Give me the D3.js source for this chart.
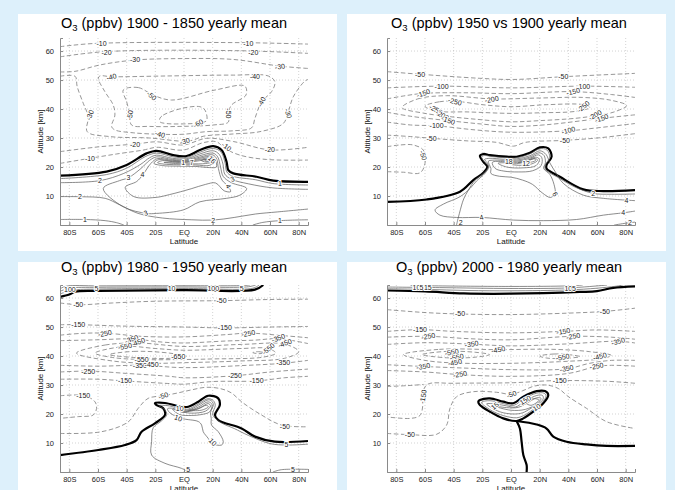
<!DOCTYPE html>
<html>
<head>
<meta charset="utf-8">
<script src="https://cdn.jsdelivr.net/npm/d3@7"></script>
<style>
  body { margin: 0; background: #ddf0fb; }
  svg { display: block; font-family: "Liberation Sans", Arial, sans-serif; }
</style>
</head>
<body>
<div id="chart"></div>
<script>
// axis ticks
var latTicks = [-80, -60, -40, -20, 0, 20, 40, 60, 80];
var latTickLabels = ["80S", "60S", "40S", "20S", "EQ", "20N", "40N", "60N", "80N"];
var altTicks = [10, 20, 30, 40, 50, 60];
var titleYears = ["1900 - 1850", "1950 vs 1900", "1980 - 1950", "2000 - 1980"];

// contour lines: level v, points [latitude, altitude km]
var p1Lines = [
  {v: -10, p: [[-86.5,61.5],[-63,62.6],[39,62.9],[86.5,62.4]]},
  {v: -20, p: [[-86.5,58],[-55,59.8],[40,60.1],[86.5,59.2]]},
  {v: -30, p: [[-86.5,52.8],[-76,53],[-58.7,55.2],[-34.2,56.9],[-0.5,57.4],[34.4,57.1],[67,54.8],[86.5,54]]},
  {v: -30, p: [[-86.5,51.3],[-76,51.3],[-74.5,47.7],[-70.3,42],[-66.8,37.4],[-67.5,32.2],[-51.7,30.5],[-23.8,30],[-0.5,28.9],[6.5,29.3],[13.4,30.6],[34.4,31.4],[53,32.2],[69.2,35],[72.7,39],[76.2,44.2],[84,49.5],[86.5,50.2]]},
  {v: -40, p: [[-58.7,51.4],[-50.5,51.15],[-12.2,51.4],[34.4,51.7],[58.8,51.4],[63.4,49.4],[61.1,46],[54.1,42.5],[49.5,36.8],[47.1,33.5],[34.4,32.5],[15.75,32.2],[-0.5,31.3],[-16.8,31.3],[-35.4,31.8],[-48.2,32.8],[-50.5,34],[-48.2,37.9],[-49.4,41.4],[-55.2,46],[-59.8,50.6],[-58.7,51.4]]},
  {v: -50, p: [[-42.4,46.55],[-31.9,47.4],[-21.45,44.8],[-8.7,43.1],[21.6,46.55],[42.5,47.9],[43.2,44.8],[33.2,41.4],[30.9,38.5],[30.9,35.5],[20.4,34.5],[-2.85,34],[-23.8,34],[-36.6,34.5],[-37.7,37.9],[-40,42.5],[-42.4,46.55]]},
  {v: -60, p: [[-16.8,36.8],[-14.5,37.9],[-1.7,40.2],[11.1,40.8],[14.6,39.65],[15.75,36],[9.9,35.2],[1.8,34.9],[-12.15,35],[-16.8,35.6],[-16.8,36.8]]},
  {v: -20, p: [[-86.5,25.3],[-58.65,27],[-34.2,27.9],[-19.1,28.7],[-0.5,27.6],[15.75,29.9],[34.4,28.8],[59.9,25.9],[86.5,26.8]]},
  {v: -10, p: [[-86.5,21.25],[-65.6,23],[-47,24.5],[-28.4,25.85],[-19.1,26.8],[-0.5,25.85],[13.4,28.4],[22.7,28.7],[28.5,26.4],[39,24.1],[57.6,22.6],[86.5,22.4]]},
  {v: 0, p: [[-86.5,17],[-54,18.4],[-40,20.7],[-26.1,24.7],[-19.1,25.6],[-7.5,24.1],[1.8,23.8],[11.1,25.85],[20.4,27.2],[26.2,25.85],[29.7,21.8],[30.9,18.95],[34.4,17.8],[50.6,16.65],[62.3,15.3],[86.5,14.9]]},
  {v: 1, p: [[-86.5,16],[-54,17.4],[-40,19.6],[-27,23.6],[-19.1,24.8],[-7.5,23.5],[1.8,23.3],[11,25.1],[20.4,26.4],[25.8,25.2],[28.7,21.3],[29.9,18.3],[33.5,16.9],[50,15.6],[62,14.3],[86.5,13.8]]},
  {v: 2, p: [[-86.5,14.6],[-58.7,15.3],[-42,17.8],[-30,21],[-24,23.2],[-19,24.1],[-8,23],[2,22.9],[11,24.5],[20.3,25.6],[24.5,24.4],[27.2,21],[28.4,17.6],[33,15.8],[45,14.2],[62,12.8],[86.5,12.3]]},
  {v: 2, p: [[-86.5,9.8],[-72.6,9.75],[-55,9.2],[-45,7],[-32,4],[-15,2.4],[5,1.8],[20.4,1.7],[35,2.6],[50,3.8],[65,4.5],[86.5,5.5]]},
  {v: 1, p: [[-86.5,1.9],[-69,1.9],[-55,1.5],[-47,0.8],[-42,0]]},
  {v: 1, p: [[48,0],[55,0.9],[66.9,1.5],[86.5,1.8]]},
  {v: 3, p: [[-56.3,12.6],[-45,15.3],[-38.8,16.3],[-30,19.5],[-24,22.3],[-19,23.5],[-8,22.6],[2,22.55],[11,23.9],[20.2,24.8],[23.5,23.5],[25.5,20],[27.3,16.8],[33,14.6],[43.7,12.6],[39,10.3],[29.7,9.2],[11.1,8],[-0.5,5.2],[-19.1,4],[-26.1,4],[-42.4,6.3],[-56.3,12.6]]},
  {v: 4, p: [[-41,13],[-33,15],[-28.9,17.2],[-23,21.3],[-18.5,22.9],[-8,22.3],[2,22.25],[11,23.4],[20,24.2],[22.8,22.8],[24,19.5],[26.5,15.5],[30.9,13.3],[32.5,11.5],[28,11.8],[22,14.5],[15,14],[5,12.5],[-10,10.5],[-20,9.5],[-35,9.8],[-41,13]]},
  {v: 5, p: [[-21,21.3],[-18,22.5],[-8,22.05],[2,22],[11,23],[19.5,23.7],[22,22.3],[22.5,20],[18,19.8],[8,20.2],[-5,20.3],[-15,20.5],[-21,21.3]]},
  {v: 6, p: [[-18.5,21.5],[-15,22.2],[-8,21.85],[2,21.8],[11,22.6],[19,23.2],[21,22],[18,20.6],[8,20.7],[-5,20.8],[-14,21],[-18.5,21.5]]},
  {v: 7, p: [[-14,21.6],[-8,21.65],[2,21.6],[11,22.2],[18.5,22.7],[19.5,21.8],[15,21.2],[5,21.1],[-6,21.2],[-14,21.6]]},
  {v: 10, p: [[12,22.3],[17,22.7],[18.8,22.2],[15.5,21.7],[12,22.3]]},
  {v: 13, p: [[14.5,22.3],[17.2,22.5],[17.8,22.1],[15.5,22],[14.5,22.3]]}
];
var p1Labels = [
  [-57.5,62.65,"-10",0],[44.8,62.65,"-10",0],[-54,59.5,"-20",0],[48.3,59.6,"-20",0],
  [-34.2,56.9,"-30",0],[66.9,54.6,"-30",-10],[-50.5,51.1,"-40",-15],[49.5,51.2,"-40",0],
  [-22.6,44.5,"-50",40],[-37.7,37.9,"-50",-80],[30.9,38.5,"-50",90],[54.1,42.5,"-40",-60],
  [-65.6,37.9,"-30",-70],[72.7,38.5,"-30",70],[9.9,35,"-60",-30],
  [-16.8,31.3,"-40",15],[0.6,28.9,"-30",-15],[-34.2,27.9,"-20",0],[59.9,25.9,"-20",0],
  [-65.6,23,"-10",0],[29.7,27,"-10",35],
  [-69.1,1.9,"1",0],[66.9,1.5,"1",0],[66.9,14.2,"1",0],
  [-58.65,15.3,"2",0],[-72.6,9.75,"2",0],[20.4,1.7,"2",0],
  [-38.8,16.3,"3",0],[-26.6,4.1,"3",-20],[33.9,15.9,"3",-20],
  [-28.9,17.3,"4",0],[30.9,13.4,"4",60],
  [-0.5,21.6,"1",0],[5.3,21.6,"7",0],[19.5,22.5,"16",45]
];

var p2Lines = [
  {v: -50, p: [[-86.5,52.9],[-63.5,52],[-21.7,50.6],[1.6,50.2],[36.5,51.15],[86.5,52.3]]},
  {v: -100, p: [[-86.5,47.3],[-48.4,47.9],[0,47.3],[50,47.9],[86.5,47.5]]},
  {v: -150, p: [[-86.5,43.5],[-75,44.5],[-61,45.4],[-30,45.6],[0,45.3],[43.4,46],[70,45],[86.5,44]]},
  {v: -200, p: [[-76,40.5],[-65,43.5],[-45,44.6],[-13.5,43.5],[20,43.8],[50,44],[70,43],[80.6,41.2],[72,39],[60,37.8],[45,36.8],[20,36],[0,35.6],[-25,36.5],[-45,37.5],[-60,38.5],[-76,40.5]]},
  {v: -250, p: [[-60,41],[-50,42.5],[-39,42.7],[-20,41.5],[0,40.8],[25,41.5],[50.4,41.5],[55,40.5],[45,39.2],[20,38.7],[0,38.5],[-30,39],[-52,39.3],[-60,41]]},
  {v: -150, p: [[-86.5,38.9],[-70,37.5],[-43.8,36],[-20,34.8],[0,34],[25,34.6],[50,36],[63.2,36.8],[86.5,38]]},
  {v: -100, p: [[-86.5,35.5],[-70,34.5],[-51.9,34.2],[-25,32.8],[0,32],[40,32.5],[60,33.5],[86.5,35]]},
  {v: -50, p: [[-86.5,31],[-70,30.5],[-55.4,29.9],[-30,29],[-10,28.5],[1.6,27.2],[10,28.5],[37.6,29.2],[60,30],[86.5,31.5]]},
  {v: -50, p: [[-86.5,27],[-77.5,27.6],[-68.2,27.6],[-61.2,25.85],[-60,21.25],[-63.5,18],[-75,18.2],[-86.5,18.4]]},
  {v: 0, p: [[-86.5,8],[-58.9,8.8],[-35.6,11.5],[-26.3,15.5],[-19.3,18],[-16.5,20.1],[-19.3,21.8],[-21.7,23.8],[-19.3,24.5],[-14.7,24.1],[-3,23.55],[3.9,23.55],[13.2,24.9],[20.2,26.8],[26,26.4],[28.3,23.55],[24.8,20.7],[24.8,19.5],[34.1,16.65],[50.4,12.3],[64.4,11.7],[86.5,12.05]]},
  {v: 2, p: [[-38,0],[-36,4],[-33,9],[-30,11.8],[-25,15.5],[-18.8,18],[-15.8,20.2],[-19,22],[-20.5,23.5],[-18.5,24],[-14.5,23.7],[-3,23.2],[4,23.2],[13,24.5],[20,26.3],[25,25.9],[27,23.4],[23.8,20.6],[24,19.2],[33.5,16.2],[45,13],[57.4,10.9],[70,10.6],[86.5,10.7]]},
  {v: 2, p: [[72,0],[80,0.6],[86.5,1]]},
  {v: 4, p: [[86.5,8.4],[64.4,9.2],[50.4,10.3],[36.5,14.35],[30.7,18.5],[27,21.5],[24.5,24.3],[20.2,25.6],[13.2,23.9],[4,22.8],[-5.4,22.7],[-14.7,23],[-18.5,22.6],[-16.8,21.6],[-15.5,20],[-18.2,17.8],[-24,15.2],[-28.6,12.6],[-35.6,9.75],[-47.2,7.2],[-53,5.15],[-49.6,3.4],[-37.9,2.6],[-20.5,2.6],[1.6,1.7],[22.5,1.5],[45.8,1.9],[64.4,3.4],[78.3,4.2],[86.5,4.8]]},
  {v: 6, p: [[-15.8,22],[-13,22.35],[-5,22.3],[4,22.4],[13,23.4],[19.5,24.9],[23,24],[24,21.5],[22.8,19.5],[27,17.5],[30,14],[30.7,10.8],[27.5,9.5],[22,11],[15,14],[8,15.5],[0,16.5],[-8,16.8],[-14,17.8],[-14,19.5],[-15.8,22]]},
  {v: 8, p: [[-13,21.6],[-5,21.9],[4,22],[13,23],[19,24.2],[21.5,23.2],[21,20.5],[15,18.7],[5,18.3],[-5,18.6],[-11,19.5],[-13,21.6]]},
  {v: 10, p: [[-9,21.3],[0,21.5],[10,22],[17,23.4],[19.8,22.7],[17.5,20.5],[8,19.7],[-3,20],[-9,21.3]]},
  {v: 12, p: [[-3,21.2],[5,21.2],[12,22.2],[17,23],[18.5,22.3],[14,21],[5,20.6],[-3,21.2]]},
  {v: 14, p: [[5,21.6],[12,22.3],[16.5,22.8],[17.2,22.3],[12,21.5],[5,21.6]]}
];
var p2Labels = [
  [-63.5,52,"-50",0],[36.5,51.15,"-50",0],[-48.4,47.9,"-100",0],[50.4,47.9,"-100",0],
  [-61.2,45.4,"-150",-20],[43.4,46,"-150",-15],[-39.1,42.6,"-250",15],[-13.5,43.3,"-200",-10],
  [50.4,40.8,"-250",-40],[58.6,37.9,"-200",-30],[63.2,36.8,"-150",-20],
  [-52.5,39.8,"-250",30],[-48,37.9,"-200",30],[-43.8,36.1,"-150",20],
  [-51.9,34.3,"-100",0],[40,32.6,"-100",-15],[-55.4,29.8,"-50",0],[37.6,29.1,"-50",0],
  [-61.2,24,"-50",70],
  [10.5,21.1,"12",0],[-1.5,22,"18",0],
  [30.7,10.6,"6",60],[57.4,10.9,"2",0],[80.6,8.4,"4",0],[78.3,4.2,"4",0],[83,0.7,"2",0],
  [-20.5,2.6,"4",-15],[-35,1,"2",0]
];

var p3Lines = [
  {v: 0, p: [[-86.5,60.4],[-80,61.2],[-76,62.2],[-60,62.5],[0,62.7],[49.5,62.9],[55.3,64.5]]},
  {v: 5, p: [[-86.5,61.4],[-78,62.7],[-60,63.1],[0,63.3],[48,63.4],[52.5,64.5]]},
  {v: 10, p: [[-86.5,62.3],[-80,63.4],[-60,63.7],[0,63.8],[45,63.9],[50,64.5]]},
  {v: 100, p: [[-86.5,63.2],[-82,64.1],[-60,64.2],[0,64.25],[40,64.3],[46,64.5]]},
  {v: -50, p: [[-86.5,58.3],[-73.8,57.7],[-50,58.3],[-20.3,58.9],[26.2,59.1],[60,59.5],[86.5,59.6]]},
  {v: -150, p: [[-86.5,50.8],[-73.8,50.8],[-40,50.3],[0,50],[28.5,49.7],[60,50],[86.5,50.2]]},
  {v: -250, p: [[-86.5,47.2],[-72,47.8],[-55.2,47.9],[-30,46.8],[0,46.6],[30,47.4],[44.8,47.9],[70,47],[86.5,46.3]]},
  {v: -350, p: [[-86.5,45.3],[-60,45.6],[-36.6,45.9],[-15,44.8],[0,44.5],[30,45.2],[50,45.5],[65.7,46],[86.5,44.3]]},
  {v: -450, p: [[-75,41],[-55,43.8],[-31.9,44.5],[0,43.3],[40,44],[70.4,44.1],[80,41.5],[70,39.2],[40,38.3],[0,37.7],[-22.6,37.5],[-50,38.3],[-75,41]]},
  {v: -550, p: [[-62,41],[-41.2,43.3],[-20,42.6],[0,42],[40,42.6],[58.8,42.6],[64,41],[55,39.6],[20,39],[0,38.8],[-29.6,38.8],[-50,39.5],[-62,41]]},
  {v: -650, p: [[-52,40.5],[-35,41.6],[-10,41],[2,39.8],[-10,39.2],[-35,39.5],[-52,40.5]]},
  {v: -650, p: [[48,41.2],[52,41.5],[56,41.1],[52,40.8],[48,41.2]]},
  {v: -350, p: [[-86.5,36.8],[-60,36.5],[-30.8,36.8],[0,36],[40,36.7],[69.2,37.5],[86.5,38.5]]},
  {v: -250, p: [[-86.5,34.5],[-65.8,34.8],[-40,34],[-10,33],[0,32.5],[35.5,33.2],[60,34.5],[86.5,35.5]]},
  {v: -150, p: [[-86.5,32],[-60,32],[-41.2,31.4],[-10,30.5],[0,30.3],[20,31.2],[50.6,31.4],[70,32.5],[86.5,33]]},
  {v: -150, p: [[-86.5,26.3],[-69.1,26.3],[-62.1,24.2],[-61,21.95],[-63.3,19.65],[-73.8,19.1],[-86.5,18.5]]},
  {v: -50, p: [[-86.5,13.3],[-57.5,13.9],[-38.9,17.3],[-31.9,22],[-25,25.4],[-14.5,26.3],[-5,27.2],[5,28.3],[15,29.2],[25,28.8],[33,27.3],[40.2,24.2],[54.1,19.65],[68,16.2],[86.5,15.6]]},
  {v: 0, p: [[-86.5,5.85],[-59.8,7.6],[-41.2,9.3],[-33.1,11],[-29.6,13.9],[-20.3,16.8],[-13.3,19.65],[-14.5,22],[-19.1,23.1],[-20.3,23.7],[-13.3,23.8],[-1.7,22.5],[3,22.5],[10,24.25],[16.9,26.3],[23.9,25.4],[25,23.1],[21.6,19.65],[23.9,17.9],[40.2,15],[49.5,12.2],[63.4,10.45],[86.5,10.7]]},
  {v: 5, p: [[86.5,9.6],[71.5,9.3],[60,9.8],[45,12.6],[35,15],[27,16.7],[22,18.4],[20,20],[21.8,23],[20.5,24.6],[16.9,25.3],[10,23.5],[3,21.7],[-2,21.7],[-10,22.8],[-15,23],[-17.5,22.9],[-13.5,21.5],[-12,19.8],[-16,17.5],[-21.45,15.3],[-22.6,10.45],[-22.6,5.85],[-13.3,3],[-1.7,1.25],[3,0]]},
  {v: 5, p: [[62,0],[68,0.8],[86.5,0.9]]},
  {v: 10, p: [[-11.5,21.8],[-9.8,20.4],[-1.7,18.5],[10,17.4],[12.3,16.2],[13.4,13.9],[16.9,11.6],[19.2,9.9],[26.2,9.3],[27.4,10.45],[23.9,13.9],[19.2,16.2],[19,18.5],[18.5,20.5],[20.5,23.3],[19,24.6],[16.9,24.9],[10,23],[3,21.3],[-2,21.2],[-8,22],[-11.5,21.8]]},
  {v: 20, p: [[-8,21.7],[0,20.6],[10,22.4],[16.9,24.2],[19.5,23.3],[18,20.8],[12,19.8],[5,19.5],[-3,19.8],[-8,21.7]]},
  {v: 50, p: [[-3,21],[5,21],[12,22.4],[16.9,23.6],[18.5,22.8],[15,21],[5,20.3],[-3,21]]},
  {v: 100, p: [[3,21.3],[10,21.8],[15.5,23],[17,22.5],[12,21.3],[3,21.3]]}
];
var p3Labels = [
  [-73.8,57.9,"-50",0],[26.2,59.1,"-50",0],[-73.8,50.8,"-150",0],[28.5,49.8,"-150",0],
  [-55.2,47.8,"-250",-10],[44.8,47.8,"-250",-10],
  [-36.6,45.8,"-350",-20],[-32,44.8,"-450",-20],[-41.2,43.3,"-550",-10],
  [65.7,46.2,"-350",-20],[70.4,44.4,"-450",-20],[58.8,42.5,"-550",-40],
  [-4,39.7,"-650",0],[-29.6,38.8,"-550",0],[-30.8,36.8,"-350",0],[-22.6,37,"-450",0],
  [69.2,37.6,"-350",0],[-66.8,34.8,"-250",0],[35.5,33.3,"-250",0],
  [-41.2,31.4,"-150",0],[50.6,31.5,"-150",0],[-70.3,26.3,"-150",0],
  [-14.5,26.3,"-50",-20],[70.4,15.8,"-50",0],
  [-4,18.6,"10",20],[20,10.3,"10",45],[3,1,"5",0],[71.5,9.4,"5",0],[76,1,"5",0],[-3,22,"10",0],
  [-79.6,63.1,"100",0],[-61,63.2,"5",0],[-8.7,63.3,"10",0],[20.4,63.3,"100",0],[40.2,63.4,"5",0]
];

var p4Lines = [
  {v: 0, p: [[-86.5,62.6],[-60,62.3],[-33,61.6],[0,61.5],[48,62.1],[60,62.4],[71.3,63.5],[86.5,64]]},
  {v: 5, p: [[-86.5,63.2],[-60,63],[-30,62.6],[0,62.5],[40,62.8],[60,63.4],[75,64.2],[78,64.5]]},
  {v: 10, p: [[-86.5,63.8],[-50,63.6],[0,63.3],[40,63.5],[65,64.4],[67,64.5]]},
  {v: 15, p: [[-70,64.3],[0,64],[40,64.2],[50,64.5]]},
  {v: -50, p: [[-86.5,56],[-60,55],[-35.6,54.5],[0,54.3],[40,54.8],[65.5,55.4],[86.5,56.5]]},
  {v: -150, p: [[-86.5,48.5],[-63.5,49.1],[-40,48.5],[0,48],[36.5,48.5],[60,49],[86.5,48.5]]},
  {v: -250, p: [[-86.5,46.5],[-57.7,46.8],[-30,46],[0,45.6],[43.4,46.8],[70,46.5],[86.5,45.8]]},
  {v: -350, p: [[-86.5,44],[-60,44.6],[-27.5,44.1],[0,43.5],[40,44.2],[74.8,45.1],[86.5,44.5]]},
  {v: -450, p: [[-75,40.5],[-50,42.3],[-8.9,42.2],[30,42.3],[55,41.5],[70,40.2],[62,39],[40,38.2],[0,37.5],[-39.1,37.6],[-60,38.5],[-75,40.5]]},
  {v: -550, p: [[-62,40.5],[-45,41.6],[-25,41.3],[-15,40.5],[-25,39.6],[-45,39.4],[-62,40.5]]},
  {v: -550, p: [[20,40],[30,40.7],[40,40.5],[48,39.8],[38,39.2],[25,39.3],[20,40]]},
  {v: -350, p: [[-86.5,37],[-61.2,36.4],[-30,35.8],[0,35.3],[38.8,35.6],[55,37.5],[70,38.5],[86.5,38.5]]},
  {v: -250, p: [[-86.5,35],[-60,34.5],[-35.6,33.6],[0,33],[40,34],[59.7,36.4],[70,36.8],[86.5,36.5]]},
  {v: -150, p: [[86.5,30.6],[66.7,31.3],[29.5,31.5],[1.6,30.8],[-40.3,30.6],[-58,30.3],[-61.2,28],[-61.5,23],[-63.5,19.5],[-70,18.5],[-86.5,19]]},
  {v: -150, p: [[-86.5,29.5],[-72,29.8],[-61,30.2]]},
  {v: -50, p: [[-86.5,13.3],[-70.5,12.9],[-51.9,13],[-44.9,16.2],[-42.6,21.95],[-37.9,26],[-26.3,27.7],[-10.1,27.5],[0.4,26.8],[8,28],[16,29.6],[25,30],[33,28.8],[40,26],[52.7,21.95],[66.7,17.35],[86.5,15]]},
  {v: 0, p: [[-22.8,24.25],[-21.7,24.8],[-14.7,25.4],[-5.4,24.25],[1.6,23.7],[8.6,26],[17.9,27.9],[23.7,27.9],[26,26.55],[22.5,23.7],[15.5,20.8],[8.6,18.5],[3.9,17.6],[-5.4,18.5],[-14.7,20.8],[-21.7,23.1],[-22.8,24.25]]},
  {v: 0, p: [[3.9,17.6],[6.2,15],[7.4,10.45],[8.6,5.85],[10.9,2.4],[10.9,0]]},
  {v: 0, p: [[3.9,17.6],[17.9,16.4],[24.8,15],[29.5,12.2],[38.8,10.45],[52.7,9.5],[66.7,9],[86.5,9]]},
  {v: 5, p: [[-20.5,24],[-14.7,24.6],[-5.4,23.6],[2,23],[9,25.3],[18,27.2],[23,27.2],[24.5,26.3],[21.5,23.8],[15,21.4],[8.6,19.4],[4,18.7],[-5,19.4],[-14,21.3],[-20.5,24]]},
  {v: 10, p: [[-17,23.5],[-10,23.4],[-3,22.8],[3,22.4],[10,24.5],[18,26.4],[22,26.4],[22.5,25.3],[20,23.8],[14,22],[8,20.4],[2,20],[-8,20.8],[-17,23.5]]},
  {v: 15, p: [[-12,22.8],[-3,22.2],[5,22.3],[12,24],[18,25.6],[21,25.4],[18,23.5],[10,21.6],[0,21.3],[-12,22.8]]},
  {v: 50, p: [[10,24],[16,25.3],[19.5,24.8],[14,23],[10,24]]}
];
var p4Labels = [
  [-35.6,54.5,"-50",0],[65.5,55.4,"-50",0],[-63.5,49,"-150",0],[36.5,48.5,"-150",-10],
  [-57.7,46.8,"-250",-10],[43.4,46.8,"-250",-10],[-27.5,44.1,"-350",-10],[74.8,45,"-350",-15],
  [-8.9,42.2,"-450",-10],[62,39.9,"-450",-15],
  [-41.4,41.3,"-550",-10],[-37.9,39.6,"-550",-10],[-39.1,37.8,"-450",-10],[36,39.6,"-550",-10],
  [-61.2,36.4,"-350",-10],[38.8,35.7,"-350",-10],[-35.6,33.7,"-250",-10],[59.7,36.5,"-250",-10],
  [34,31.4,"-150",0],[-61.3,26,"-150",-80],[0.4,26.8,"-50",-20],[-70.5,12.9,"-50",0],
  [-11.2,22.8,"15",-40],[10,24.8,"150",-30],[17.9,22.3,"10",-30],
  [-66,63.5,"10",0],[-62.5,63.5,"5",0],[-58,63.6,"15",0],[40,63.2,"10",0],[44,63.2,"5",0]
];

var W = 675, H = 490;
var plotW = 248, plotH = 187;

var svg = d3.select("#chart").append("svg")
    .attr("width", W)
    .attr("height", H);

svg.append("rect").attr("width", W).attr("height", H).attr("fill", "#ddf0fb");

// panel boxes, plot origins and title anchors
var panels = [
  {bx: 18, by: 14, px: 60, py: 38, tx: 174, ty: 27.5, lines: p1Lines, labels: p1Labels},
  {bx: 347, by: 14, px: 387, py: 38, tx: 509, ty: 27.5, lines: p2Lines, labels: p2Labels},
  {bx: 18, by: 262, px: 60, py: 285, tx: 174, ty: 272, lines: p3Lines, labels: p3Labels},
  {bx: 347, by: 262, px: 387, py: 285, tx: 509, ty: 272, lines: p4Lines, labels: p4Labels}
];

var x = d3.scaleLinear().domain([-86.5, 86.5]).range([0, plotW]);
var y = d3.scaleLinear().domain([0, 64.5]).range([plotH, 0]);

var openLine = d3.line()
    .x(function(d) { return x(d[0]); })
    .y(function(d) { return y(d[1]); })
    .curve(d3.curveCatmullRom.alpha(0.5));
var closedLine = d3.line()
    .x(function(d) { return x(d[0]); })
    .y(function(d) { return y(d[1]); })
    .curve(d3.curveCatmullRomClosed.alpha(0.5));

function contourPath(pts) {
  var n = pts.length;
  if (n > 3 && pts[0][0] === pts[n-1][0] && pts[0][1] === pts[n-1][1]) {
    return closedLine(pts.slice(0, n - 1));
  }
  return openLine(pts);
}

panels.forEach(function(pn, i) {
  svg.append("rect")
    .attr("x", pn.bx).attr("y", pn.by)
    .attr("width", 319).attr("height", 237)
    .attr("fill", "#fff");

  // title with subscript
  var t = svg.append("text")
    .attr("x", pn.tx).attr("y", pn.ty)
    .attr("text-anchor", "middle")
    .style("font-size", "14.5px")
    .attr("fill", "#000");
  t.append("tspan").text("O");
  t.append("tspan").attr("dy", 3).style("font-size", "9.5px").text("3");
  t.append("tspan").attr("dy", -3).text(" (ppbv) " + titleYears[i] + " yearly mean");

  var g = svg.append("g")
    .attr("transform", "translate(" + pn.px + "," + pn.py + ")");

  g.append("clipPath").attr("id", "clip" + i)
    .append("rect").attr("width", plotW).attr("height", plotH);

  // dotted grid
  g.selectAll(".gx").data(latTicks).enter().append("line")
    .attr("x1", function(d) { return x(d); }).attr("x2", function(d) { return x(d); })
    .attr("y1", 0).attr("y2", plotH)
    .style("stroke", "#b5b5b5").style("stroke-width", 0.6)
    .style("stroke-dasharray", "1,2");
  g.selectAll(".gy").data(altTicks).enter().append("line")
    .attr("x1", 0).attr("x2", plotW)
    .attr("y1", function(d) { return y(d); }).attr("y2", function(d) { return y(d); })
    .style("stroke", "#b5b5b5").style("stroke-width", 0.6)
    .style("stroke-dasharray", "1,2");

  // contours
  var cg = g.append("g").attr("clip-path", "url(#clip" + i + ")");
  cg.selectAll("path").data(pn.lines).enter().append("path")
    .attr("d", function(d) { return contourPath(d.p); })
    .style("fill", "none")
    .style("stroke", function(d) { return d.v === 0 ? "#000" : (d.v < 0 ? "#7c7c7c" : "#5a5a5a"); })
    .style("stroke-width", function(d) { return d.v === 0 ? 2.2 : (d.v < 0 ? 0.8 : 0.7); })
    .style("stroke-dasharray", function(d) { return d.v < 0 ? "4.5,2.5" : null; });

  // contour labels
  g.selectAll(".clab").data(pn.labels).enter().append("text")
    .attr("transform", function(d) {
      return "translate(" + x(d[0]) + "," + y(d[1]) + ") rotate(" + d[3] + ")";
    })
    .attr("text-anchor", "middle")
    .attr("dy", "0.35em")
    .style("font-size", "7px")
    .style("fill", "#1a1a1a")
    .style("stroke", "#fff")
    .style("stroke-width", 2)
    .style("paint-order", "stroke")
    .text(function(d) { return d[2]; });

  // axes
  var ax = g.append("g").attr("transform", "translate(0," + plotH + ")")
    .call(d3.axisBottom(x).tickValues(latTicks).tickSize(-3)
      .tickFormat(function(d, k) { return latTickLabels[k]; }));
  var ay = g.append("g")
    .call(d3.axisLeft(y).tickValues(altTicks).tickSize(-3));
  [ax, ay].forEach(function(a) {
    a.select(".domain").style("stroke", "#8a8a8a");
    a.selectAll(".tick line").style("stroke", "#8a8a8a");
    a.selectAll("text").style("font-size", "7.5px").style("fill", "#222")
      .style("font-family", "'Liberation Sans', Arial, sans-serif");
  });
  ax.selectAll("text").attr("y", 4.5);
  ay.selectAll("text").attr("x", -6);

  g.append("text")
    .attr("x", plotW / 2).attr("y", plotH + 19)
    .attr("text-anchor", "middle")
    .style("font-size", "8px").style("fill", "#111")
    .text("Latitude");
  g.append("text")
    .attr("transform", "translate(-17," + (plotH / 2) + ") rotate(-90)")
    .attr("text-anchor", "middle")
    .style("font-size", "8px").style("fill", "#111")
    .text("Altitude  [km]");
});
</script>
</body>
</html>
